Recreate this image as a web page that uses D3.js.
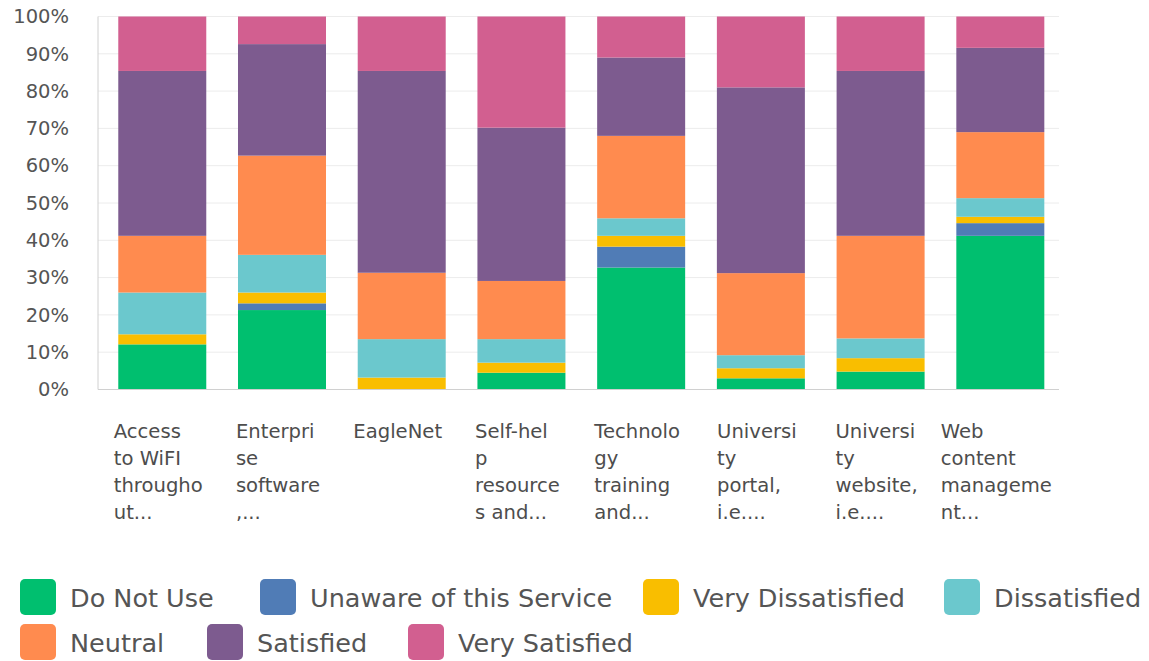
<!DOCTYPE html>
<html>
<head>
<meta charset="utf-8">
<script src="https://cdn.jsdelivr.net/npm/d3@7"></script>
<style>
  html, body { margin: 0; padding: 0; background: #fff; }
  svg { display: block; font-family: "DejaVu Sans", sans-serif; }
</style>
</head>
<body>
<svg id="chart" width="1149" height="661"></svg>
<script>
// Service names, already wrapped into display lines
const categories = [
  "Access to WiFI throughout...",
  "Enterprise software ,...",
  "EagleNet",
  "Self-help resources and...",
  "Technology training and...",
  "University portal, i.e....",
  "University website, i.e....",
  "Web content management..."
];
const categoryLines = [
  ["Access", "to WiFI", "througho", "ut..."],
  ["Enterpri", "se", "software", ",..."],
  ["EagleNet"],
  ["Self-hel", "p", "resource", "s and..."],
  ["Technolo", "gy", "training", "and..."],
  ["Universi", "ty", "portal,", "i.e...."],
  ["Universi", "ty", "website,", "i.e...."],
  ["Web", "content", "manageme", "nt..."]
];

// Response shares (%) per service, bottom to top of each bar
const doNotUse         = [12.1, 21.3,  0.0,  4.5, 32.7,  3.0,  4.8, 41.2];
const unaware          = [ 0.0,  1.8,  0.0,  0.0,  5.6,  0.0,  0.0,  3.4];
const veryDissatisfied = [ 2.7,  2.9,  3.2,  2.7,  2.9,  2.7,  3.6,  1.7];
const dissatisfied     = [11.2, 10.1, 10.3,  6.3,  4.7,  3.5,  5.3,  5.0];
const neutral          = [15.2, 26.6, 17.8, 15.6, 22.1, 22.0, 27.5, 17.7];
const satisfied        = [44.2, 29.9, 54.1, 41.1, 21.0, 49.8, 44.2, 22.6];
const verySatisfied    = [14.6,  7.4, 14.6, 29.8, 11.0, 19.0, 14.6,  8.4];

const seriesNames = ["Do Not Use", "Unaware of this Service", "Very Dissatisfied",
                     "Dissatisfied", "Neutral", "Satisfied", "Very Satisfied"];
const seriesValues = [doNotUse, unaware, veryDissatisfied, dissatisfied,
                      neutral, satisfied, verySatisfied];
const seriesColors = ["#00bf6f", "#507cb6", "#f9be00", "#6bc8cd",
                      "#ff8b4f", "#7d5b8f", "#d25f90"];

const yTicks = [0, 10, 20, 30, 40, 50, 60, 70, 80, 90, 100];

// Build a row-per-category table for d3.stack
const table = categories.map((c, i) => {
  const row = { category: c };
  seriesNames.forEach((s, j) => { row[s] = seriesValues[j][i]; });
  return row;
});

const svg = d3.select("#chart");
const plot = { left: 98, right: 1059, top: 16.5, bottom: 389.5 };

const x = d3.scaleBand()
  .domain(categories)
  .range([plot.left, plot.right])
  .paddingInner(0.265)
  .paddingOuter(0.146)
  .align(0.58);

const y = d3.scaleLinear()
  .domain([0, 100])
  .range([plot.bottom, plot.top]);

const color = d3.scaleOrdinal().domain(seriesNames).range(seriesColors);

// Horizontal gridlines
svg.append("g")
  .selectAll("line")
  .data(yTicks.filter(t => t > 0))
  .join("line")
  .attr("x1", plot.left).attr("x2", plot.right)
  .attr("y1", d => y(d)).attr("y2", d => y(d))
  .attr("stroke", "#ececec")
  .attr("stroke-width", 1);

// Y axis labels
const yAxis = svg.append("g")
  .attr("transform", `translate(${plot.left},0)`)
  .call(d3.axisLeft(y).tickValues(yTicks).tickFormat(d => d + "%").tickSize(0).tickPadding(29));
yAxis.select(".domain").remove();
yAxis.selectAll("text")
  .attr("font-family", "DejaVu Sans, sans-serif")
  .attr("font-size", 19.5)
  .attr("fill", "#555");

// Stacked bars
const stack = d3.stack().keys(seriesNames)(table);
svg.append("g")
  .selectAll("g")
  .data(stack)
  .join("g")
  .attr("fill", d => color(d.key))
  .selectAll("rect")
  .data(d => d)
  .join("rect")
  .attr("x", d => x(d.data.category))
  .attr("width", x.bandwidth())
  .attr("y", d => y(d[1]))
  .attr("height", d => Math.max(0, y(d[0]) - y(d[1])));

// Frame: left and bottom axis lines
svg.append("line")
  .attr("x1", plot.left).attr("x2", plot.left)
  .attr("y1", plot.top).attr("y2", plot.bottom)
  .attr("stroke", "#d0d0d0");
svg.append("line")
  .attr("x1", plot.left).attr("x2", plot.right)
  .attr("y1", plot.bottom).attr("y2", plot.bottom)
  .attr("stroke", "#d0d0d0");

// Category labels: left-aligned lines, block centred under each bar
const labelGroups = svg.append("g")
  .selectAll("text")
  .data(categories)
  .join("text")
  .attr("font-family", "DejaVu Sans, sans-serif")
  .attr("font-size", 19.6)
  .attr("fill", "#4d4d4d");
labelGroups.each(function(c, i) {
  const t = d3.select(this);
  categoryLines[i].forEach((line, k) => {
    t.append("tspan").attr("dy", k === 0 ? 0 : 27).text(line);
  });
  let maxW = 0;
  t.selectAll("tspan").each(function() {
    maxW = Math.max(maxW, this.getComputedTextLength());
  });
  const left = x(c) + x.bandwidth() / 2 - maxW / 2 - 4;
  t.attr("y", 438);
  t.selectAll("tspan").attr("x", left);
});

// Legend, two rows
const legendPos = [
  [20, 579], [260, 579], [643, 579], [944, 579],
  [20, 624], [207, 624], [408, 624]
];
const legend = svg.append("g")
  .selectAll("g")
  .data(seriesNames)
  .join("g")
  .attr("transform", (d, i) => `translate(${legendPos[i][0]},${legendPos[i][1]})`);
legend.append("rect")
  .attr("width", 36).attr("height", 36)
  .attr("rx", 5).attr("ry", 5)
  .attr("fill", d => color(d));
legend.append("text")
  .attr("x", 50).attr("y", 28)
  .attr("font-family", "DejaVu Sans, sans-serif")
  .attr("font-size", 25.5)
  .attr("fill", "#555")
  .text(d => d);
</script>
</body>
</html>
